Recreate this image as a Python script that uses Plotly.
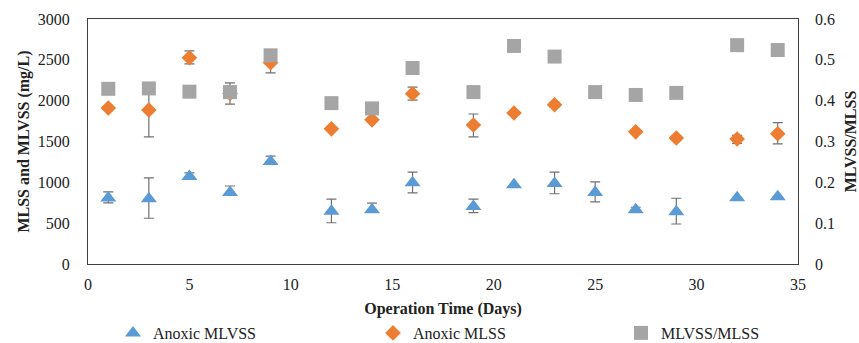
import plotly.graph_objects as go

days = [1, 3, 5, 7, 9, 12, 14, 16, 19, 21, 23, 25, 27, 29, 32, 34]

mlvss = [808, 800, 1070, 875, 1255, 645, 665, 995, 705, 970, 985, 875, 665, 640, 810, 822]
mlvss_err_up = [75, 255, 45, 80, 65, 150, 80, 130, 90, 0, 140, 130, 30, 165, 0, 0]
mlvss_err_dn = [60, 240, 0, 0, 0, 140, 0, 125, 75, 0, 125, 115, 0, 150, 0, 0]

day_mlss = [1, 3, 5, 7, 9, 12, 14, 16, 19, 21, 23, 27, 29, 32, 34]
mlss = [1910, 1886, 2525, 2088, 2465, 1655, 1765, 2085, 1702, 1849, 1950, 1618, 1543, 1531, 1595]
mlss_err_up = [0, 320, 85, 130, 110, 0, 0, 80, 135, 0, 30, 0, 25, 45, 135]
mlss_err_dn = [0, 330, 75, 130, 125, 0, 0, 78, 145, 0, 30, 0, 25, 55, 125]

ratio = [0.429, 0.430, 0.422, 0.421, 0.511, 0.394, 0.381, 0.480, 0.421, 0.534,
         0.508, 0.421, 0.414, 0.419, 0.536, 0.524]

serif = "Liberation Serif"
err_color = "#707070"
W, H = 859, 343
L, R, T, B = 88, 61, 19, 79
pw, ph = W - L - R, H - T - B

def px_x(x):
    return (x - L) / pw

def px_y(y):
    return (H - B - y) / ph

fig = go.Figure()

fig.add_trace(go.Scatter(
    x=days, y=mlvss, mode="markers", name="Anoxic MLVSS", legend="legend",
    marker=dict(symbol="triangle-up", size=14, color="#5B9BD5"),
    error_y=dict(type="data", symmetric=False, array=mlvss_err_up, arrayminus=mlvss_err_dn,
                 color=err_color, thickness=1.2, width=5),
))
fig.add_trace(go.Scatter(
    x=day_mlss, y=mlss, mode="markers", name="Anoxic MLSS", legend="legend2",
    marker=dict(symbol="diamond", size=12, color="#ED7D31"),
    error_y=dict(type="data", symmetric=False, array=mlss_err_up, arrayminus=mlss_err_dn,
                 color=err_color, thickness=1.2, width=5),
))
fig.add_trace(go.Scatter(
    x=days, y=ratio, mode="markers", name="MLVSS/MLSS", yaxis="y2", legend="legend3",
    marker=dict(symbol="square", size=14, color="#A5A5A5"),
))

legfont = dict(family=serif, size=16, color="#222222")
def leg(xpix):
    return dict(x=px_x(xpix - 22), xanchor="left", y=px_y(333), yanchor="middle",
                font=legfont, itemwidth=30, bgcolor="rgba(0,0,0,0)", borderwidth=0)

fig.update_layout(
    width=W, height=H,
    margin=dict(l=L, r=R, t=T, b=B, autoexpand=False),
    paper_bgcolor="white", plot_bgcolor="white",
    font=dict(family=serif, size=15, color="#222222"),
    showlegend=True,
    legend=leg(135),
    legend2=leg(395),
    legend3=leg(643),
    xaxis=dict(range=[0, 35], dtick=5, tick0=0, showgrid=False, zeroline=False,
               showline=True, linecolor="#404040", linewidth=1, mirror=True, ticks="",
               ticklabelstandoff=6, automargin=False,
               title=dict(text="<b>Operation Time (Days)</b>", font=dict(family=serif, size=16),
                          standoff=10),
               tickfont=dict(family=serif, size=16)),
    yaxis=dict(range=[0, 3000], dtick=500, tick0=0, showgrid=False, zeroline=False,
               showline=True, linecolor="#404040", linewidth=1, mirror=True, ticks="",
               ticklabelstandoff=14, automargin=False,
               title=dict(text="<b>MLSS and MLVSS (mg/L)</b>", font=dict(family=serif, size=16),
                          standoff=4),
               tickfont=dict(family=serif, size=16)),
    yaxis2=dict(range=[0, 0.6], dtick=0.1, tick0=0, overlaying="y", side="right",
                showgrid=False, zeroline=False, showline=False, ticks="",
                ticklabelstandoff=16, automargin=False,
                title=dict(text="<b>MLVSS/MLSS</b>", font=dict(family=serif, size=16),
                           standoff=12),
                tickfont=dict(family=serif, size=16)),
)

fig.write_html("out.html", config={"displayModeBar": False},
               post_script="document.body.style.margin='0';document.body.style.overflow='hidden';")
